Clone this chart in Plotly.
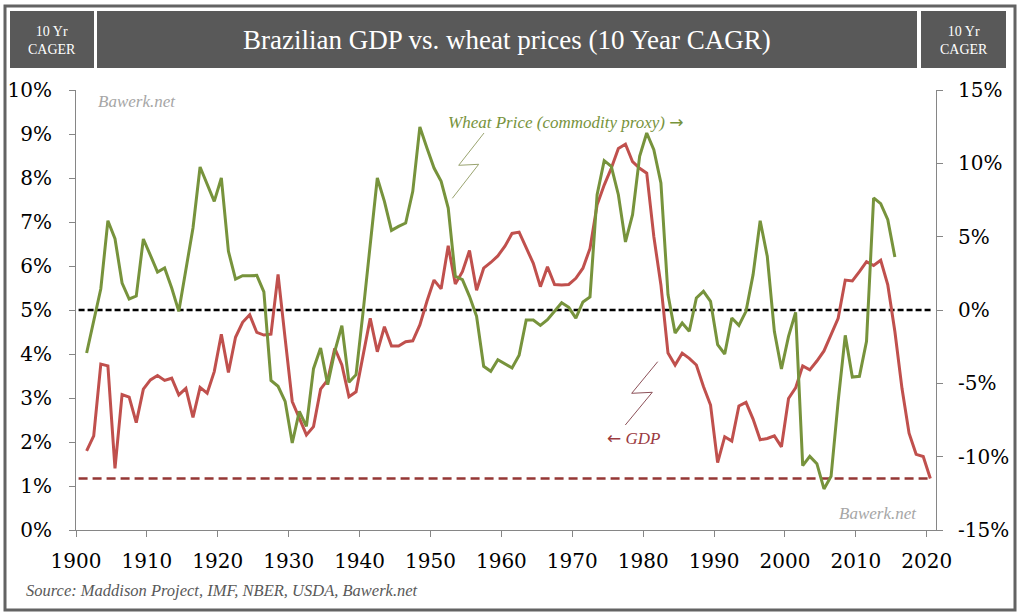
import plotly.graph_objects as go

# ---------------- data ----------------
gdp_years = list(range(1901, 2021))
gdp_cagr = [
    1.80, 2.14, 3.77, 3.73, 1.40, 3.08, 3.02, 2.44, 3.20, 3.41,
    3.51, 3.40, 3.45, 3.07, 3.22, 2.56, 3.24, 3.11, 3.60, 4.45,
    3.58, 4.38, 4.72, 4.89, 4.49, 4.43, 4.45, 5.81, 4.35, 2.92,
    2.54, 2.16, 2.35, 3.20, 3.41, 4.13, 3.75, 3.03, 3.14, 3.96,
    4.81, 4.05, 4.62, 4.18, 4.18, 4.28, 4.30, 4.66, 5.20, 5.68,
    5.48, 6.46, 5.59, 5.87, 6.35, 5.45, 5.95, 6.08, 6.23, 6.45,
    6.74, 6.77, 6.40, 6.06, 5.53, 5.98, 5.58, 5.57, 5.58, 5.72,
    5.95, 6.40, 7.39, 7.84, 8.22, 8.67, 8.77, 8.37, 8.22, 8.11,
    6.67, 5.57, 4.02, 3.75, 4.02, 3.90, 3.75, 3.26, 2.84, 1.53,
    2.12, 2.02, 2.82, 2.90, 2.52, 2.05, 2.08, 2.14, 1.89, 2.99,
    3.23, 3.73, 3.64, 3.84, 4.07, 4.42, 4.81, 5.68, 5.66, 5.87,
    6.10, 6.01, 6.13, 5.57, 4.51, 3.22, 2.20, 1.72, 1.67, 1.17,
]

wheat_years = list(range(1901, 2016))
wheat_cagr = [
    -2.93, -0.70, 1.45, 6.09, 4.86, 1.84, 0.75, 0.95, 4.84, 3.73,
    2.59, 2.86, 1.50, -0.09, 2.80, 5.59, 9.75, 8.55, 7.41, 9.00,
    4.00, 2.11, 2.34, 2.34, 2.36, 1.23, -4.80, -5.20, -6.23, -9.07,
    -6.91, -7.93, -4.00, -2.59, -5.09, -2.82, -1.07, -4.93, -4.41, -0.09,
    4.34, 9.00, 7.41, 5.43, 5.70, 5.93, 8.09, 12.48, 11.05, 9.68,
    8.77, 6.95, 2.30, 2.07, 0.93, -0.43, -3.84, -4.18, -3.39, -3.65,
    -3.95, -3.09, -0.68, -0.68, -1.05, -0.66, -0.09, 0.50, 0.18, -0.55,
    0.55, 0.89, 7.86, 10.18, 9.80, 7.86, 4.64, 6.50, 10.48, 12.07,
    10.93, 8.66, 1.05, -1.57, -0.89, -1.45, 0.82, 1.27, 0.59, -2.36,
    -3.00, -0.55, -1.05, -0.09, 2.41, 6.09, 3.66, -1.45, -4.02, -1.80,
    -0.16, -10.61, -9.98, -10.48, -12.20, -11.34, -6.23, -1.73, -4.57, -4.52,
    -2.14, 7.64, 7.25, 6.16, 3.61,
]

x_ticks = list(range(1900, 2021, 10))
left_ticks = list(range(0, 11))
right_ticks = list(range(-15, 16, 5))

title_text = "Brazilian GDP vs. wheat prices (10 Year CAGR)"
corner_text = "10 Yr<br>CAGER"
source_text = "Source: Maddison Project, IMF, NBER, USDA, Bawerk.net"
wheat_label = "Wheat Price (commodity proxy)"
gdp_label = "GDP"
watermark = "Bawerk.net"

# ---------------- layout helpers ----------------
W, H = 1022, 615
ML, MR, MT, MB = 76, 86, 90, 85
PW, PH = W - ML - MR, H - MT - MB


def px(xp):
    return (xp - ML) / PW


def py(yp):
    return (H - MB - yp) / PH


GREEN = "#77933C"
RED = "#C0504D"
DKRED = "#953735"
HDR = "#595959"
AXIS = "#868686"
TICKFONT = dict(family="DejaVu Serif", size=20, color="#000000")
ARROW = "<span style='font-family:DejaVu Sans;font-size:17px'>{}</span>"

# category-style placement: each year's point sits mid-way in its slot
gdp_x = [y + 0.5 for y in gdp_years]
wheat_x = [y + 0.5 for y in wheat_years]

fig = go.Figure()
fig.add_trace(go.Scatter(x=gdp_x, y=gdp_cagr, mode="lines", name="GDP",
                         line=dict(color=RED, width=3), yaxis="y"))
fig.add_trace(go.Scatter(x=wheat_x, y=wheat_cagr, mode="lines", name="Wheat",
                         line=dict(color=GREEN, width=3), yaxis="y2"))

shapes = []
# reference lines
shapes.append(dict(type="line", xref="paper", yref="y2", x0=0.003, x1=0.9953,
                   y0=0, y1=0, line=dict(color="#000000", width=2.3, dash="6px,3px"),
                   layer="below"))
shapes.append(dict(type="line", xref="paper", yref="y", x0=0.003, x1=0.9953,
                   y0=gdp_cagr[-1], y1=gdp_cagr[-1],
                   line=dict(color=DKRED, width=2.5, dash="9px,5px"), layer="below"))

# header boxes
for (a, b) in [(10, 94), (97, 917), (921, 1006)]:
    shapes.append(dict(type="rect", xref="paper", yref="paper",
                       x0=px(a), x1=px(b), y0=py(68), y1=py(11),
                       fillcolor=HDR, line=dict(width=0)))
# outer frame
shapes.append(dict(type="rect", xref="paper", yref="paper",
                   x0=px(5), x1=px(1015), y0=py(610), y1=py(6),
                   line=dict(color="#636363", width=3)))


def bolt(pts, color):
    d = "M " + " L ".join(f"{px(a)},{py(b)}" for a, b in pts)
    return dict(type="path", xref="paper", yref="paper", path=d,
                line=dict(color=color, width=1))


shapes.append(bolt([(484, 133), (458.7, 165.3), (478.7, 164.3), (452.3, 198.3)], "#9aa470"))
shapes.append(bolt([(657.7, 361.7), (631.7, 393.3), (652.3, 392.3), (625.3, 425)], "#8c5058"))

annotations = [
    dict(text=title_text, x=px(507), y=py(40), xref="paper", yref="paper",
         showarrow=False, xanchor="center", yanchor="middle",
         font=dict(family="Liberation Serif", size=27, color="#ffffff")),
    dict(text=corner_text, x=px(52), y=py(40), xref="paper", yref="paper",
         showarrow=False, xanchor="center", yanchor="middle",
         font=dict(family="Liberation Serif", size=14, color="#ffffff")),
    dict(text=corner_text, x=px(963.5), y=py(40), xref="paper", yref="paper",
         showarrow=False, xanchor="center", yanchor="middle",
         font=dict(family="Liberation Serif", size=14, color="#ffffff")),
    dict(text=f"<i>{watermark}</i>", x=px(96), y=py(101), xref="paper", yref="paper",
         showarrow=False, xanchor="left", yanchor="middle",
         font=dict(family="Liberation Serif", size=17, color="#a6a6a6")),
    dict(text=f"<i>{watermark}</i>", x=px(919), y=py(513), xref="paper", yref="paper",
         showarrow=False, xanchor="right", yanchor="middle",
         font=dict(family="Liberation Serif", size=17, color="#a6a6a6")),
    dict(text=f"<i>{wheat_label} </i>" + ARROW.format("→"), x=px(446), y=py(122),
         xref="paper", yref="paper",
         showarrow=False, xanchor="left", yanchor="middle",
         font=dict(family="Liberation Serif", size=17, color=GREEN)),
    dict(text=ARROW.format("←") + f"<i> {gdp_label}</i>", x=px(605), y=py(438),
         xref="paper", yref="paper",
         showarrow=False, xanchor="left", yanchor="middle",
         font=dict(family="Liberation Serif", size=17, color="#9b3b3f")),
    dict(text=f"<i>{source_text}</i>", x=px(24), y=py(590), xref="paper", yref="paper",
         showarrow=False, xanchor="left", yanchor="middle",
         font=dict(family="Liberation Serif", size=16.5, color="#595959")),
]

fig.update_layout(
    width=W, height=H,
    margin=dict(l=ML, r=MR, t=MT, b=MB, pad=0, autoexpand=False),
    paper_bgcolor="#ffffff", plot_bgcolor="#ffffff",
    showlegend=False,
    shapes=shapes,
    annotations=annotations,
    xaxis=dict(range=[1900, 2021.3], tickvals=x_ticks, ticktext=[str(t) for t in x_ticks],
               showgrid=False, zeroline=False, showline=True, linecolor=AXIS, linewidth=1,
               ticks="outside", ticklen=6, tickcolor=AXIS, tickfont=TICKFONT,
               ticklabelstandoff=7, automargin=False),
    yaxis=dict(range=[0, 10], tickvals=left_ticks, ticktext=[f"{t}%" for t in left_ticks],
               showgrid=False, zeroline=False, showline=True, linecolor=AXIS, linewidth=1,
               ticks="outside", ticklen=6, tickcolor=AXIS, tickfont=TICKFONT,
               ticklabelstandoff=13, automargin=False),
    yaxis2=dict(range=[-15, 15], tickvals=right_ticks, ticktext=[f"{t}%" for t in right_ticks],
                overlaying="y", side="right", anchor="x",
                showgrid=False, zeroline=False, showline=True, linecolor=AXIS, linewidth=1,
                ticks="outside", ticklen=6, tickcolor=AXIS, tickfont=TICKFONT,
                ticklabelstandoff=11, automargin=False),
)

fig.write_html("out.html")
